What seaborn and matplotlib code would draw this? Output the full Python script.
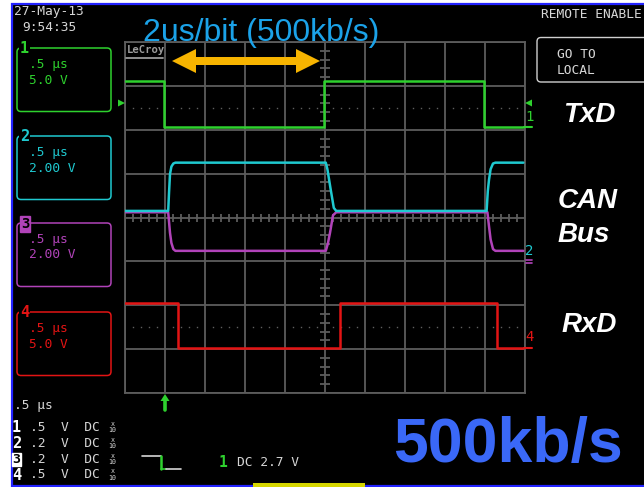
import numpy as np
import pandas as pd
import matplotlib
matplotlib.use("Agg")
import matplotlib.pyplot as plt
from matplotlib.patches import FancyBboxPatch, Rectangle, Polygon
from matplotlib.lines import Line2D
from matplotlib.transforms import Affine2D
import seaborn as sns

W, H = 644, 487

# ---- timebase / screen ---------------------------------------------------
time_per_div_us = 0.5          # 0.5 us/div, 10 horizontal divisions
n_xdiv, n_ydiv = 10, 8
trace_end_us = 4.98

# ---- channel 1 : TxD (levels in screen divisions) --------------------------
txd_edges_us = [0.49, 2.49, 4.49]
txd_levels_div = [3.10, 2.07, 3.10, 2.07]

# ---- channel 4 : RxD -------------------------------------------------------
rxd_edges_us = [0.66, 2.69, 4.65]
rxd_levels_div = [-1.94, -2.97, -1.94, -2.97]

# ---- channel 2 : CAN_H (with finite slew on the edges) ---------------------
canh_t_us = [0.0, 0.54, 0.55, 0.5625, 0.58, 0.604, 0.63,
             2.51, 2.53, 2.57, 2.61, 2.64,
             4.52, 4.535, 4.55, 4.57, 4.60, 4.63, 4.98]
canh_div = [0.15, 0.15, 0.55, 0.99, 1.16, 1.23, 1.25,
            1.25, 1.10, 0.65, 0.22, 0.15,
            0.15, 0.60, 0.86, 1.10, 1.23, 1.25, 1.25]

# ---- channel 3 : CAN_L -----------------------------------------------------
canl_t_us = [0.0, 0.54, 0.5625, 0.58, 0.604, 0.63,
             2.51, 2.535, 2.5625, 2.60, 2.64,
             4.53, 4.55, 4.57, 4.60, 4.63, 4.98]
canl_div = [0.12, 0.12, -0.35, -0.58, -0.72, -0.76,
            -0.76, -0.60, -0.35, 0.05, 0.12,
            0.12, -0.20, -0.50, -0.72, -0.76, -0.76]

# ---- channel settings panel ------------------------------------------------
channels = ["1", "2", "3", "4"]
chan_timebase = [".5 \u00b5s", ".5 \u00b5s", ".5 \u00b5s", ".5 \u00b5s"]
chan_vdiv = ["5.0 V", "2.00 V", "2.00 V", "5.0 V"]
chan_probe = [".5  V  DC", ".2  V  DC", ".2  V  DC", ".5  V  DC"]
signal_names = ["TxD", "CAN\nBus", "RxD"]

GREEN = "#2ed12e"
CYAN = "#1fc9d0"
MAGENTA = "#b143b9"
RED = "#e31414"
GRID = "#5c5c5c"
TXT = "#d6d6d6"
chan_colors = [GREEN, CYAN, MAGENTA, RED]


def step_trace(edges, levels, end):
    t, v = [0.0], [levels[0]]
    for e, a, b in zip(edges, levels[:-1], levels[1:]):
        t += [e, e]
        v += [a, b]
    t.append(end)
    v.append(levels[-1])
    return pd.DataFrame({"t": t, "v": v})


sns.set_theme(style="dark", rc={"axes.facecolor": "black",
                                "figure.facecolor": "white",
                                "axes.edgecolor": GRID,
                                "grid.color": GRID})
plt.rcParams["font.family"] = ["DejaVu Sans"]
MONO = ["DejaVu Sans Mono"]
SANS = ["Liberation Sans", "DejaVu Sans"]

fig = plt.figure(figsize=(W / 100, H / 100), dpi=100)
fig.patch.set_facecolor("white")
# pixel coordinates, origin at top-left
P = Affine2D().scale(1 / W, -1 / H).translate(0, 1) + fig.transFigure

fig.add_artist(Rectangle((12, 3.5), 640, 482.5, transform=P, facecolor="black",
                         edgecolor="#2323ff", lw=1.6, zorder=-1))

ax = fig.add_axes([125 / W, 1 - 393 / H, 400 / W, 351 / H])
ax.set_facecolor("black")

# ---- traces ----------------------------------------------------------------
traces = [
    (step_trace(txd_edges_us, txd_levels_div, trace_end_us), GREEN),
    (pd.DataFrame({"t": canl_t_us, "v": canl_div}), MAGENTA),
    (pd.DataFrame({"t": canh_t_us, "v": canh_div}), CYAN),
    (step_trace(rxd_edges_us, rxd_levels_div, trace_end_us), RED),
]
for df, col in traces:
    sns.lineplot(data=df, x="t", y="v", sort=False, estimator=None,
                 color=col, lw=1.8, ax=ax, zorder=3)

x_max = n_xdiv * time_per_div_us
ax.set_xlim(0, x_max)
ax.set_ylim(-n_ydiv / 2, n_ydiv / 2)
ax.set_xticks(np.arange(0, x_max + 1e-9, time_per_div_us))
ax.set_yticks(np.arange(-n_ydiv / 2, n_ydiv / 2 + 1e-9, 1))
ax.tick_params(length=0, labelbottom=False, labelleft=False)
ax.set_xlabel("")
ax.set_ylabel("")
ax.grid(True, color=GRID, lw=1.3)
for s in ax.spines.values():
    s.set_color(GRID)
    s.set_linewidth(1.3)

# minor ticks on the centre axes
yt = np.arange(-4, 4.001, 0.2)
yt = yt[np.abs(yt - np.round(yt)) > 0.05]
ax.plot(np.full(len(yt), x_max / 2), yt, ls="none", marker="_", ms=6.5,
        mew=1.3, color=GRID, zorder=1.5)
xt = np.arange(0, x_max + 1e-9, 0.1)
xt = xt[np.abs(xt / time_per_div_us - np.round(xt / time_per_div_us)) > 0.05]
ax.plot(xt, np.zeros(len(xt)), ls="none", marker="|", ms=6, mew=1.3,
        color=GRID, zorder=1.5)
for yd in (2.5, -2.5):
    ax.plot(xt, np.full(len(xt), yd), ls="none", marker="s", ms=1.0,
            mew=0, color="#5e5e5e", zorder=1.5)


def ptext(x, y, s, **kw):
    kw.setdefault("va", "center")
    kw.setdefault("ha", "left")
    return fig.text(x, y, s, transform=P, **kw)


def pline(xs, ys, color, lw=1.2):
    fig.add_artist(Line2D(xs, ys, transform=P, color=color, lw=lw, zorder=4))


# ---- header ------------------------------------------------------------------
ptext(14, 12, "27-May-13", color=TXT, fontsize=9.3, family=MONO)
ptext(22, 27.5, "9:54:35", color=TXT, fontsize=9.3, family=MONO)
ptext(541, 15, "REMOTE ENABLE", color=TXT, fontsize=9.3, family=MONO)
fig.add_artist(FancyBboxPatch((537, 37.5), 120, 44.5, transform=P,
                              boxstyle="round,pad=0,rounding_size=4",
                              facecolor="none", edgecolor="#cfcfcf", lw=1.0))
ptext(557, 54, "GO TO", color=TXT, fontsize=9.3, family=MONO)
ptext(557, 71, "LOCAL", color=TXT, fontsize=9.3, family=MONO)

ptext(143, 40.5, "2us/bit (500kb/s)", color="#1ba2e8", fontsize=23,
      family=SANS, va="baseline")

ptext(127, 50, "LeCroy", color="#9c9c9c", fontsize=7.6, family=MONO,
      weight="bold")
pline([126.5, 163], [57.5, 57.5], "#9c9c9c", lw=1.3)

# bit-time arrow
fig.add_artist(Polygon([(172, 61), (196, 49), (196, 57), (296, 57),
                        (296, 49), (320, 61), (296, 73), (296, 65),
                        (196, 65), (196, 73)], closed=True, transform=P,
                       facecolor="#f7b400", edgecolor="none", zorder=5))

# ---- channel boxes -------------------------------------------------------
box_tops = [48, 136, 223, 312]
for i, (ch, col) in enumerate(zip(channels, chan_colors)):
    y0 = box_tops[i]
    fig.add_artist(FancyBboxPatch((17, y0), 94, 63.5, transform=P,
                                  boxstyle="round,pad=0,rounding_size=4",
                                  facecolor="none", edgecolor=col, lw=1.1,
                                  zorder=2))
    if ch == "3":
        ptext(25, y0 + 1, ch, color="black", fontsize=10, family=MONO,
              weight="bold", ha="center",
              bbox=dict(facecolor=col, edgecolor=col, pad=0.6))
    else:
        ptext(24.5, y0 + 0.5, ch, color=col, fontsize=11, family=MONO,
              weight="bold", ha="center",
              bbox=dict(facecolor="black", edgecolor="none", pad=0.4))
    ptext(29, y0 + 16.5, chan_timebase[i], color=col, fontsize=9.3, family=MONO)
    ptext(29, y0 + 32, chan_vdiv[i], color=col, fontsize=9.3, family=MONO)

# trace markers at the grid edges
fig.add_artist(Polygon([(118, 99.5), (125, 103), (118, 106.5)], transform=P,
                       facecolor=GREEN, edgecolor="none", zorder=4))
fig.add_artist(Polygon([(532, 99.5), (525, 103), (532, 106.5)], transform=P,
                       facecolor=GREEN, edgecolor="none", zorder=4))
ptext(529.5, 117, "1", color=GREEN, fontsize=10, family=MONO, ha="center")
pline([524, 532], [127, 127], GREEN, lw=1.5)
pline([526, 532], [259.5, 259.5], MAGENTA, lw=1.2)
pline([526, 532], [262.5, 262.5], MAGENTA, lw=1.2)
ptext(529.5, 251, "2", color=CYAN, fontsize=10, family=MONO, ha="center")
ptext(529.5, 337, "4", color=RED, fontsize=10, family=MONO, ha="center")
pline([524, 532], [347.5, 347.5], RED, lw=1.5)

# signal names
name_pos = [(563, 122), (558, 208), (562, 332)]
for name, (x, y) in zip(signal_names, name_pos):
    for k, line in enumerate(name.split("\n")):
        ptext(x, y + 34 * k, line, color="white", fontsize=20, family=SANS,
              weight="bold", style="italic", va="baseline")

# ---- footer ------------------------------------------------------------------
ptext(14, 405.5, ".5 \u00b5s", color=TXT, fontsize=9.3, family=MONO)
row_y = [427.5, 443.5, 459.5, 475]
for ch, txt, y in zip(channels, chan_probe, row_y):
    if ch == "3":
        ptext(16.5, y, ch, color="black", fontsize=9.5, family=MONO,
              weight="bold", ha="center",
              bbox=dict(facecolor="white", edgecolor="white", pad=0.3))
    else:
        ptext(16.5, y, ch, color="white", fontsize=11, family=MONO,
              weight="bold", ha="center")
    ptext(30, y, txt, color=TXT, fontsize=9.3, family=MONO)
    ptext(112.5, y - 4, "x", color=TXT, fontsize=4.8, family=MONO, ha="center")
    ptext(112.5, y + 2.5, "10", color=TXT, fontsize=4.8, family=MONO,
          ha="center")

# trigger symbol and level
pline([142, 161.5], [456, 456], TXT, lw=1.2)
pline([161.5, 161.5], [456, 469], GREEN, lw=1.8)
pline([161.5, 166], [469, 469], GREEN, lw=1.2)
pline([166, 181], [469, 469], TXT, lw=1.2)
ptext(223.5, 462.5, "1", color=GREEN, fontsize=10.5, family=MONO,
      weight="bold", ha="center")
ptext(237, 462.5, "DC 2.7 V", color=TXT, fontsize=9.3, family=MONO)

# trigger position arrow
fig.add_artist(Polygon([(160.5, 401), (165, 394), (169.5, 401)], transform=P,
                       facecolor=GREEN, edgecolor="none", zorder=4))
pline([165, 165], [400, 410], GREEN, lw=2.6)

fig.add_artist(Rectangle((253, 483), 112, 4, transform=P,
                         facecolor="#d6d600", edgecolor="none", zorder=3))

ptext(393, 462, "500kb/s", color="#3a68f7", fontsize=45, family=SANS,
      weight="bold", va="baseline")

fig.savefig("out.png", dpi=100, facecolor=fig.get_facecolor())
